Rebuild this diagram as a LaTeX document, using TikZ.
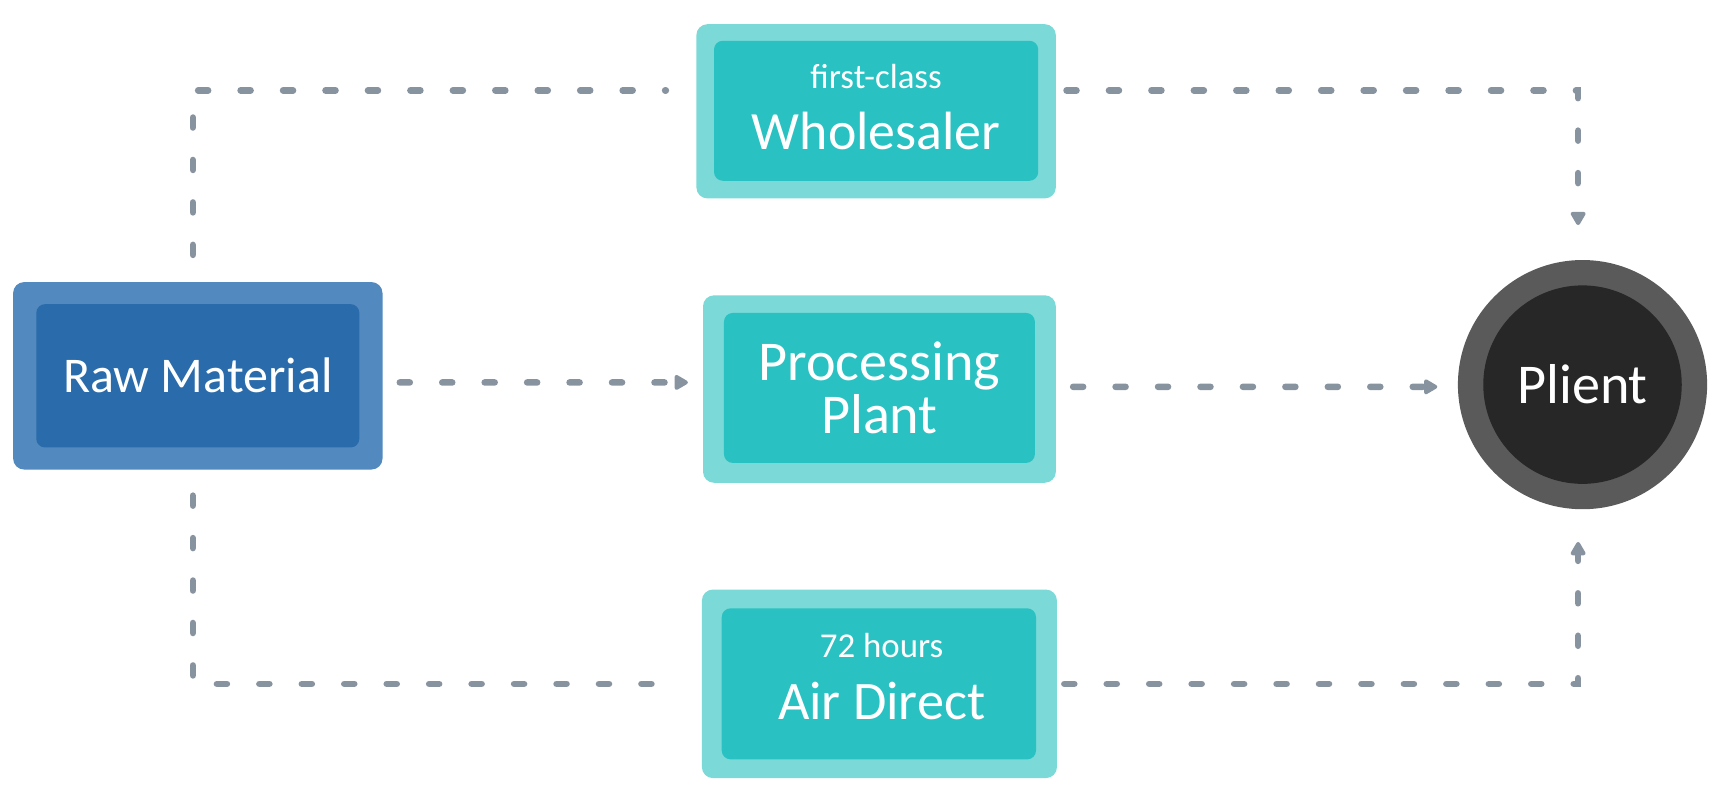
\documentclass[tikz,border=0pt]{standalone}
\usepackage{fontspec}
\setmainfont{Carlito}
\usetikzlibrary{arrows.meta}
\definecolor{conncol}{HTML}{8893A0}
\definecolor{rawout}{HTML}{5289BE}
\definecolor{rawin}{HTML}{296BAB}
\definecolor{tealout}{HTML}{7BDAD8}
\definecolor{tealin}{HTML}{2AC1C2}
\definecolor{cirout}{HTML}{5A5A5A}
\definecolor{cirin}{HTML}{272727}
\newcommand{\smalltxt}{\fontsize{9}{10}\selectfont}
\tikzset{
  outerbox/.style={rectangle, rounded corners=0.1cm, inner sep=0pt},
  innerbox/.style={rectangle, rounded corners=0.08cm, inner sep=0pt, text=white, align=center},
  label txt/.style={inner sep=0pt, text=white, align=center},
  conn/.style={draw=conncol, line width=0.06cm, line cap=round, dash pattern=on 0.09cm off 0.295cm},
  arr/.style={-{Triangle[round, length=0.14cm, width=0.15cm]}},
}
\begin{document}
\begin{tikzpicture}[x=0.01cm, y=-0.01cm]
\useasboundingbox (0,0) rectangle (1568,726);
% Raw Material
\node[outerbox, fill=rawout, minimum width=3.35cm, minimum height=1.70cm] (rawo) at (179.5,341) {};
\node[innerbox, fill=rawin, minimum width=2.93cm, minimum height=1.30cm, font=\fontsize{12.9}{13}\selectfont] (raw) at (179.5,341) {Raw Material};
% Wholesaler
\node[outerbox, fill=tealout, minimum width=3.26cm, minimum height=1.58cm] (wholeo) at (795,101) {};
\node[innerbox, fill=tealin, minimum width=2.94cm, minimum height=1.27cm] (whole) at (795,100.5) {};
\node[label txt, font=\fontsize{13.9}{13}\selectfont] (wholet) at (795,97) {{\smalltxt first-class}\\[0.1cm]Wholesaler};
% Processing Plant
\node[outerbox, fill=tealout, minimum width=3.20cm, minimum height=1.70cm] (proco) at (798,353) {};
\node[innerbox, fill=tealin, minimum width=2.82cm, minimum height=1.36cm, font=\fontsize{14.5}{12.2}\selectfont] (proc) at (798,352) {Processing\\Plant};
% Air Direct
\node[outerbox, fill=tealout, minimum width=3.22cm, minimum height=1.71cm] (airo) at (798,620.5) {};
\node[innerbox, fill=tealin, minimum width=2.85cm, minimum height=1.37cm] (air) at (797.5,620.5) {};
\node[label txt, font=\fontsize{14}{13}\selectfont] (airt) at (800,614) {{\smalltxt 72 hours}\\[0.1cm]Air Direct};
% Plient
\node[circle, fill=cirout, minimum size=2.26cm, inner sep=0pt] (plient) at (1436,349) {};
\node[circle, fill=cirin, minimum size=1.80cm, inner sep=0pt, text=white, font=\fontsize{14.5}{14}\selectfont] (plienti) at (1436,349) {Plient};
% connectors
\draw[conn, shorten <=0.24cm, shorten >=0.27cm] ([xshift=-0.045cm]rawo.north) |- ([yshift=0.19cm]wholeo.west);
\draw[conn, arr, shorten <=0.09cm, shorten >=0.31cm] ([yshift=0.19cm]wholeo.east) -| ([xshift=-0.04cm]plient.north);
\draw[conn, arr, shorten <=0.15cm, shorten >=0.13cm] ([yshift=-0.06cm]rawo.east) -- ([yshift=0.06cm]proco.west);
\draw[conn, arr, shorten <=0.15cm, shorten >=0.18cm] ([yshift=0.02cm]proco.east) -- ([yshift=-0.02cm]plient.west);
\draw[conn, shorten <=0.23cm, shorten >=0.17cm] ([xshift=-0.045cm]rawo.south) |- (airo.west);
\draw[conn, arr, shorten <=0.06cm, shorten >=0.29cm] (airo.east) -| ([xshift=-0.04cm]plient.south);
\end{tikzpicture}
\end{document}
